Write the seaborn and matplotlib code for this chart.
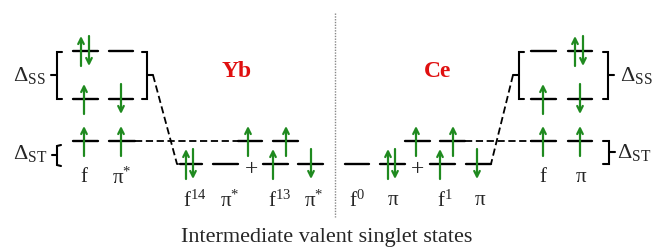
import matplotlib
matplotlib.use("Agg")
import matplotlib.pyplot as plt
import seaborn as sns
import pandas as pd

# ---- data (diagram content) ----
# energy level segments: (x_start, x_end, y)
yb_levels = [(73, 98, 52), (109, 133, 52), (73, 98, 100), (109, 133, 100),
             (73, 98, 142), (109, 135, 142),
             (180, 202, 165), (213, 238, 165), (263, 288, 165), (298, 323, 165),
             (238, 262, 142), (273, 298, 142)]
ce_levels = [(345, 369, 165), (380, 405, 165), (430, 455, 165), (466, 491, 165),
             (405, 430, 142), (440, 465, 142),
             (531, 556, 142), (568, 592, 142), (531, 556, 52), (568, 592, 52),
             (531, 556, 100), (568, 592, 100)]
# spin arrows: (x, level_y, direction) direction +1 up, -1 down
yb_spins = [(81, 52, 1), (89, 52, -1), (84, 100, 1), (121, 100, -1),
            (84, 142, 1), (121, 142, 1),
            (186, 165, 1), (193, 165, -1), (248, 142, 1), (286, 142, 1),
            (273, 165, 1), (311, 165, -1)]
ce_spins = [(388, 165, 1), (395, 165, -1), (416, 142, 1), (453, 142, 1),
            (440, 165, 1), (477, 165, -1),
            (543, 142, 1), (580, 142, 1), (543, 100, 1), (580, 100, -1),
            (575, 52, 1), (583, 52, -1)]
# orbital labels: (x, y, text)
orbital_labels = [(84, 178, "f"), (122, 178, r"π$^{*}$"),
                  (195, 201, r"f$^{14}$"), (230, 201, r"π$^{*}$"),
                  (280, 201, r"f$^{13}$"), (314, 201, r"π$^{*}$"),
                  (357, 201, r"f$^{0}$"), (393, 201, "π"),
                  (445, 201, r"f$^{1}$"), (480, 201, "π"),
                  (543, 178, "f"), (581, 178, "π")]
element_labels = [(237, 72, "Yb"), (438, 72, "Ce")]
title_text = "Intermediate valent singlet states"

GREEN = "#1f8a1f"

sns.set_theme(style="white")
plt.rcParams["font.family"] = ["Liberation Serif", "DejaVu Serif"]
plt.rcParams["mathtext.fontset"] = "custom"
plt.rcParams["mathtext.rm"] = "Liberation Serif"
plt.rcParams["mathtext.it"] = "Liberation Serif:italic"
plt.rcParams["mathtext.bf"] = "Liberation Serif:bold"

fig = plt.figure(figsize=(6.53, 2.51), dpi=100)
ax = fig.add_axes([0, 0, 1, 1])

# levels drawn via seaborn
rows = []
for i, (x0, x1, y) in enumerate(yb_levels + ce_levels):
    rows.append({"x": x0, "y": y, "seg": i})
    rows.append({"x": x1, "y": y, "seg": i})
df = pd.DataFrame(rows)
sns.lineplot(data=df, x="x", y="y", units="seg", estimator=None, sort=False,
             color="black", lw=1.7, ax=ax, legend=False)
ax.set_xlim(0, 653)
ax.set_ylim(251, 0)
ax.axis("off")

# spins
for x, y, d in yb_spins + ce_spins:
    ax.annotate("", xy=(x, y - 15 * d), xytext=(x, y + 15 * d),
                arrowprops=dict(arrowstyle="->", color=GREEN, lw=1.6,
                                mutation_scale=10, shrinkA=0, shrinkB=0))

# brackets
k = dict(color="black", lw=1.5, solid_joinstyle="miter")
# Yb SS left
ax.plot([62, 57, 57, 62], [53, 53, 100, 100], **k)
ax.plot([57, 51], [76, 76], **k)
# Yb SS right
ax.plot([142, 147, 147, 142], [53, 53, 100, 100], **k)
ax.plot([147, 153], [76, 76], **k)
# Ce SS left
ax.plot([524, 519, 519, 524], [53, 53, 100, 100], **k)
ax.plot([519, 513], [76, 76], **k)
# Ce SS right
ax.plot([603, 608, 608, 603], [53, 53, 100, 100], **k)
ax.plot([608, 614], [76, 76], **k)
# Yb ST left
ax.plot([61, 57, 57, 61], [146, 147, 166, 167], **k)
ax.plot([57, 52], [156, 156], **k)
# Ce ST right
ax.plot([603, 609, 609, 603], [142, 142, 165, 165], **k)
ax.plot([609, 615], [153, 153], **k)

# dashed connectors
dk = dict(color="black", lw=1.3, linestyle=(0, (4, 2)))
ax.plot([153, 177, 181], [76, 165, 165], **dk)
ax.plot([513, 491], [76, 165], **dk)
ax.plot([135, 238], [142, 142], **dk)
ax.plot([465, 531], [142, 142], **dk)

# vertical separator
ax.plot([335, 335], [14, 218], color="#888888", lw=1, linestyle=(0, (1, 1)))

# text
ax.text(13, 76, r"Δ$_\mathregular{SS}$", fontsize=16, ha="left", va="center")
ax.text(13, 154, r"Δ$_\mathregular{ST}$", fontsize=16, ha="left", va="center")
ax.text(620, 76, r"Δ$_\mathregular{SS}$", fontsize=16, ha="left", va="center")
ax.text(617, 153, r"Δ$_\mathregular{ST}$", fontsize=16, ha="left", va="center")
for x, y, t in orbital_labels:
    ax.text(x, y, t, fontsize=15, ha="center", va="center")
for x, y, t in element_labels:
    ax.text(x, y, t, fontsize=17, ha="center", va="center",
            color="#e01010", fontweight="bold")
ax.text(252, 170, "+", fontsize=17, ha="center", va="center")
ax.text(418, 170, "+", fontsize=17, ha="center", va="center")
ax.text(327, 238, title_text, fontsize=16, ha="center", va="center")

fig.savefig("out.png", dpi=100)
